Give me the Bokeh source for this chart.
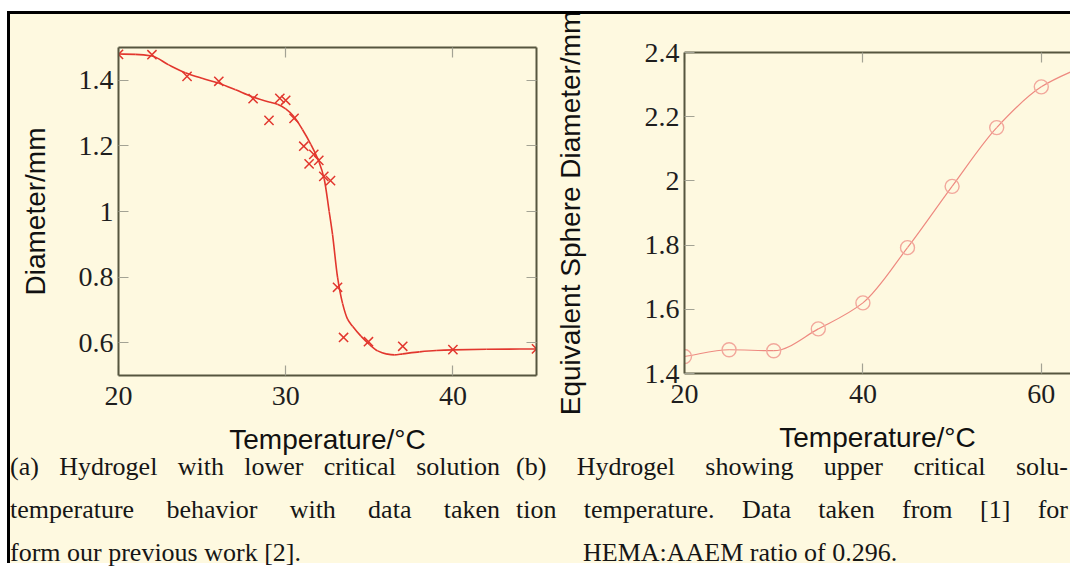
import numpy as np
from bokeh.plotting import figure
from bokeh.models import (LinearAxis, FixedTicker, CustomJSTickFormatter, Range1d,
                          Div, ColumnDataSource)
from bokeh.layouts import row, column
from bokeh.embed import file_html
from bokeh.resources import INLINE

# ---------------- data ----------------
# panel (a): measured points
a_temp = [20.0, 22.0, 24.1, 26.0, 28.05, 29.0, 29.65, 30.0, 30.5, 31.08, 31.4,
          31.68, 31.98, 32.28, 32.68, 33.1, 33.46, 34.95, 37.0, 40.0, 45.0]
a_diam = [1.479, 1.478, 1.412, 1.397, 1.344, 1.278, 1.345, 1.339, 1.284, 1.199, 1.145,
          1.174, 1.156, 1.107, 1.094, 0.769, 0.616, 0.603, 0.589, 0.579, 0.581]
# panel (a): fitted curve
a_fit_temp = [20.0, 21.0, 22.0, 23.0, 24.0, 25.0, 26.0, 27.0, 28.0, 29.0, 29.5, 30.0,
              30.5, 31.0, 31.5, 32.0, 32.3, 32.6, 32.8, 33.1, 33.4, 33.7, 34.0, 34.5,
              35.0, 35.5, 36.0, 36.5, 37.0, 38.0, 39.0, 40.0, 42.0, 45.0]
a_fit_diam = [1.480, 1.479, 1.474, 1.447, 1.423, 1.406, 1.391, 1.371, 1.350, 1.334, 1.327,
              1.313, 1.289, 1.250, 1.205, 1.150, 1.100, 1.000, 0.930, 0.800, 0.720, 0.672,
              0.650, 0.620, 0.595, 0.575, 0.566, 0.563, 0.566, 0.572, 0.576, 0.578, 0.580,
              0.581]
a_xticks = [20, 30, 40]
a_yticks = [0.6, 0.8, 1, 1.2, 1.4]

# panel (b)
b_temp = [20, 25, 30, 35, 40, 45, 50, 55, 60, 65]
b_diam = [1.453, 1.474, 1.471, 1.539, 1.620, 1.792, 1.983, 2.166, 2.293, 2.361]
b_xticks = [20, 40, 60]
b_yticks = [1.4, 1.6, 1.8, 2, 2.2, 2.4]

cap_a = ["(a) Hydrogel with lower critical solution",
         "temperature behavior with data taken",
         "form our previous work [2]."]
cap_b = ["(b) Hydrogel showing upper critical solu-",
         "tion temperature. Data taken from [1] for",
         "HEMA:AAEM ratio of 0.296."]

# ---------------- style ----------------
BG = "#FEF9E0"
FRAME = "#56563f"
TICK = "#a3a394"
RED = "#E2372E"
PINK_LINE = "#EE8A80"
PINK_MARK = "#F2A89C"


def smooth_bezier(xs, ys):
    """Monotone cubic Hermite segments expressed as Bezier control points."""
    xs = np.asarray(xs, float)
    ys = np.asarray(ys, float)
    h = np.diff(xs)
    d = np.diff(ys) / h
    n = len(xs)
    m = np.zeros(n)
    m[0], m[-1] = d[0], d[-1]
    for i in range(1, n - 1):
        if d[i - 1] * d[i] <= 0:
            m[i] = 0.0
        else:
            w1 = 2 * h[i] + h[i - 1]
            w2 = h[i] + 2 * h[i - 1]
            m[i] = (w1 + w2) / (w1 / d[i - 1] + w2 / d[i])
    return ColumnDataSource(dict(
        x0=xs[:-1], y0=ys[:-1], x1=xs[1:], y1=ys[1:],
        cx0=xs[:-1] + h / 3, cy0=ys[:-1] + m[:-1] * h / 3,
        cx1=xs[1:] - h / 3, cy1=ys[1:] - m[1:] * h / 3))


fmt = CustomJSTickFormatter(code="return tick.toString();")


def style_axis(ax, ticks, show_labels=True):
    ax.ticker = FixedTicker(ticks=ticks)
    ax.axis_line_color = FRAME
    ax.axis_line_width = 2
    ax.major_tick_in = 10
    ax.major_tick_out = 0
    ax.major_tick_line_color = TICK
    ax.major_tick_line_width = 1.2
    ax.minor_tick_line_color = None
    if show_labels:
        ax.formatter = fmt
        ax.major_label_text_font = "Liberation Serif"
        ax.major_label_text_font_size = "28px"
        ax.major_label_text_color = "#1e1e1e"
        ax.major_label_standoff = 5
        ax.axis_label_text_font = "Liberation Sans"
        ax.axis_label_text_font_size = "28px"
        ax.axis_label_text_font_style = "normal"
        ax.axis_label_text_color = "#111111"
    else:
        ax.axis_label = None
        ax.major_label_text_font_size = "0px"
        ax.major_label_standoff = 0
        ax.axis_label_text_font_size = "0px"
        ax.axis_label_standoff = 0


FIG_H = 469


def make_fig(width, xr, yr, mb_left, mb_right, mb_top, mb_bottom):
    p = figure(width=width, height=FIG_H, x_range=xr, y_range=yr, title=None,
               output_backend="svg", toolbar_location=None,
               min_border_left=mb_left, min_border_right=mb_right,
               min_border_top=mb_top, min_border_bottom=mb_bottom,
               background_fill_color=BG, border_fill_color=BG,
               outline_line_color=None, margin=0)
    p.grid.visible = False
    return p


# ---------------- panel (a) ----------------
fa = make_fig(535, Range1d(20, 45), Range1d(0.5, 1.5), 108, 9, 33, 108)
style_axis(fa.xaxis[0], a_xticks)
style_axis(fa.yaxis[0], a_yticks)
fa.xaxis[0].axis_label = "Temperature/°C"
fa.yaxis[0].axis_label = "Diameter/mm"
fa.xaxis[0].major_label_standoff = 11
fa.xaxis[0].axis_label_standoff = 16
fa.yaxis[0].axis_label_standoff = 25
top_a = LinearAxis()
style_axis(top_a, a_xticks, show_labels=False)
fa.add_layout(top_a, "above")
right_a = LinearAxis()
style_axis(right_a, a_yticks, show_labels=False)
fa.add_layout(right_a, "right")

fa.bezier(x0="x0", y0="y0", x1="x1", y1="y1", cx0="cx0", cy0="cy0",
          cx1="cx1", cy1="cy1", source=smooth_bezier(a_fit_temp, a_fit_diam),
          line_color=RED, line_width=1.6)
fa.scatter(a_temp, a_diam, marker="x", size=13, line_color=RED, line_width=1.5)

# ---------------- panel (b) ----------------
B_W = 525
B_LEFT = 139
fb = make_fig(B_W, Range1d(20, 20 + (B_W - B_LEFT) / 8.92), Range1d(1.4, 2.4),
              B_LEFT, 0, 38, 110)
style_axis(fb.xaxis[0], b_xticks)
style_axis(fb.yaxis[0], b_yticks)
fb.xaxis[0].axis_label = "Temperature/°C"
fb.yaxis[0].axis_label = "Equivalent Sphere Diameter/mm"
fb.xaxis[0].major_label_standoff = 11
fb.xaxis[0].axis_label_standoff = 16
fb.yaxis[0].axis_label_standoff = 56
top_b = LinearAxis()
style_axis(top_b, b_xticks, show_labels=False)
fb.add_layout(top_b, "above")

fb.bezier(x0="x0", y0="y0", x1="x1", y1="y1", cx0="cx0", cy0="cy0",
          cx1="cx1", cy1="cy1", source=smooth_bezier(b_temp, b_diam),
          line_color=PINK_LINE, line_width=1.2)
fb.scatter(b_temp, b_diam, marker="circle", size=14, fill_color=None,
           line_color=PINK_MARK, line_width=1.4)

# ---------------- captions ----------------
JUST = "text-align:justify;text-align-last:justify;white-space:nowrap;"


def caption_html(lines, left, width, last_indent, shift):
    s = ("<div style=\"position:relative;top:%dpx;left:%dpx;"
         "font-family:'Liberation Serif',serif;font-size:26px;"
         "line-height:43px;color:#161616;\">" % (shift, left))
    s += f"<div style='width:{width}px;{JUST}'>{lines[0]}</div>"
    s += f"<div style='width:{width}px;{JUST}'>{lines[1]}</div>"
    s += (f"<div style='padding-left:{last_indent}px;white-space:nowrap;"
          f"line-height:21px;margin-top:11px;'>{lines[2]}</div>")
    s += "</div>"
    return s


CAP_H = 563 - 14 - FIG_H
SHIFT = int(round(444.5 - (14 + FIG_H)))
div_a = Div(text=caption_html(cap_a, 0, 490, 0, SHIFT), width=535, height=CAP_H, margin=0)
div_b = Div(text=caption_html(cap_b, -29, 552, 67, SHIFT), width=B_W, height=CAP_H, margin=0)

left_col = column(fa, div_a, margin=0)
right_col = column(fb, div_b, margin=0)
layout = row(left_col, right_col, margin=(11, 0, 0, 7),
             styles={"border-left": "3px solid black", "border-top": "3px solid black",
                     "background-color": BG})

open("out.html", "w").write(file_html(layout, INLINE))
